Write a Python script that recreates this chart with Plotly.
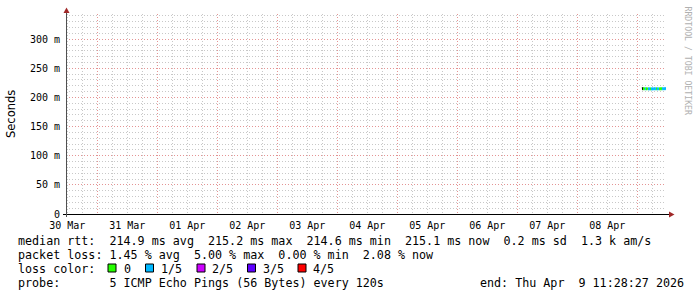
import plotly.graph_objects as go
import pandas as pd

# ---------------- data ----------------
start_time = "2026-03-30 11:28:27"
end_time = "2026-04-09 11:28:27"

day_labels = ["30 Mar", "31 Mar", "01 Apr", "02 Apr", "03 Apr",
              "04 Apr", "05 Apr", "06 Apr", "07 Apr", "08 Apr"]
label_times = ["2026-03-30 12:00", "2026-03-31 12:00", "2026-04-01 12:00",
               "2026-04-02 12:00", "2026-04-03 12:00", "2026-04-04 12:00",
               "2026-04-05 12:00", "2026-04-06 12:00", "2026-04-07 12:00",
               "2026-04-08 12:00"]
midnights = ["2026-03-31", "2026-04-01", "2026-04-02", "2026-04-03", "2026-04-04",
             "2026-04-05", "2026-04-06", "2026-04-07", "2026-04-08", "2026-04-09"]

y_tickvals = [0, 0.05, 0.10, 0.15, 0.20, 0.25, 0.30]
y_ticktext = ["0", "50 m", "100 m", "150 m", "200 m", "250 m", "300 m"]

times = ["2026-04-09 01:52", "2026-04-09 02:16", "2026-04-09 02:40", "2026-04-09 03:04",
         "2026-04-09 03:28", "2026-04-09 03:52", "2026-04-09 04:16", "2026-04-09 04:40",
         "2026-04-09 05:04", "2026-04-09 05:28", "2026-04-09 05:52", "2026-04-09 06:16",
         "2026-04-09 06:40", "2026-04-09 07:04", "2026-04-09 07:28", "2026-04-09 07:52",
         "2026-04-09 08:16", "2026-04-09 08:40", "2026-04-09 09:04", "2026-04-09 09:28",
         "2026-04-09 09:52", "2026-04-09 10:16", "2026-04-09 10:40", "2026-04-09 11:04",
         "2026-04-09 11:28"]
median_s = [0.2150, 0.2152, 0.2151, 0.2148, 0.2150, 0.2151, 0.2147, 0.2148,
            0.2149, 0.2146, 0.2148, 0.2147, 0.2149, 0.2148, 0.2150, 0.2148,
            0.2147, 0.2149, 0.2151, 0.2150, 0.2149, 0.2148, 0.2150, 0.2152,
            0.2151]
# loss (out of 5) for the segment ending at each point; None = unknown
seg_loss = [None, 0, 0, 1, 0, 0, 1, 1, 0, 1, 1, 1, 1, 1, 0, 1, 1, 0, 0, 0, 1, 1, 1, 1]

loss_names = ["0", "1/5", "2/5", "3/5", "4/5"]
loss_colors = ["#26ff00", "#00b8ff", "#cc00ff", "#5e00ff", "#ff0000"]

stats_rtt = "median rtt:  214.9 ms avg  215.2 ms max  214.6 ms min  215.1 ms now  0.2 ms sd  1.3 k am/s"
stats_loss = "packet loss: 1.45 % avg  5.00 % max  0.00 % min  2.08 % now"
probe_text = "probe:       5 ICMP Echo Pings (56 Bytes) every 120s"
end_text = "end: Thu Apr  9 11:28:27 2026"

# grid positions (minor grid skips the major positions)
six_hours = [t.strftime("%Y-%m-%d %H:%M") for t in
             pd.date_range("2026-03-30 12:00", "2026-04-09 06:00", freq="6h")
             if t.hour != 0]
y_minor = [round(0.01 * k, 2) for k in range(1, 35) if k % 5 != 0]

# ---------------- layout helpers ----------------
W, H = 697, 297
PL, PR, PT, PB = 66, 666, 14, 214


def px(x):
    return (x - PL) / (PR - PL)


def py(y):
    return (PB - y) / (PB - PT)


MONO = "DejaVu Sans Mono"
YR = [0, 0.3432]

fig = go.Figure()

# invisible traces to host the grid axes
fig.add_trace(go.Scatter(x=[start_time, end_time], y=[0, 0], xaxis="x2", yaxis="y2",
                         mode="lines", line=dict(width=0), opacity=0,
                         hoverinfo="skip", showlegend=False))
fig.add_trace(go.Scatter(x=[start_time, end_time], y=[0, 0], xaxis="x3", yaxis="y3",
                         mode="lines", line=dict(width=0), opacity=0,
                         hoverinfo="skip", showlegend=False))

# median line segments coloured by loss
groups = {}
for i, l in enumerate(seg_loss):
    groups.setdefault(l, ([], []))
    gx, gy = groups[l]
    gx += [times[i], times[i + 1], None]
    gy += [median_s[i], median_s[i + 1], None]
for l, (gx, gy) in groups.items():
    col = "#000000" if l is None else loss_colors[l]
    fig.add_trace(go.Scatter(x=gx, y=gy, mode="lines",
                             line=dict(color=col, width=3),
                             hoverinfo="skip", showlegend=False))

grid_gray = "#c8c8c8"
grid_red = "#e49494"
dash = "1px,2px"

hidden = dict(showticklabels=False, zeroline=False, showline=False, ticks="",
              fixedrange=True)

fig.update_layout(
    width=W, height=H,
    margin=dict(l=PL, r=W - PR, t=PT, b=H - PB),
    paper_bgcolor="white", plot_bgcolor="white",
    showlegend=False,
    xaxis=dict(type="date", range=[start_time, end_time],
               tickvals=label_times, ticktext=day_labels,
               showgrid=False, zeroline=False, showline=False, ticks="",
               ticklabelstandoff=4,
               tickfont=dict(family=MONO, size=10, color="#000000"),
               fixedrange=True),
    yaxis=dict(range=YR, tickvals=y_tickvals, ticktext=y_ticktext,
               showgrid=False, zeroline=False, showline=False, ticks="",
               ticklabelstandoff=5,
               tickfont=dict(family=MONO, size=10, color="#000000"),
               fixedrange=True),
    xaxis2=dict(type="date", range=[start_time, end_time], overlaying="x", anchor="y2",
                tickvals=six_hours, showgrid=True, gridcolor=grid_gray,
                griddash=dash, gridwidth=1, **hidden),
    yaxis2=dict(range=YR, overlaying="y", anchor="x2", tickvals=y_minor,
                showgrid=True, gridcolor=grid_gray, griddash=dash, gridwidth=1, **hidden),
    xaxis3=dict(type="date", range=[start_time, end_time], overlaying="x", anchor="y3",
                tickvals=midnights, showgrid=True, gridcolor=grid_red,
                griddash=dash, gridwidth=1, **hidden),
    yaxis3=dict(range=YR, overlaying="y", anchor="x3", tickvals=y_tickvals[1:],
                showgrid=True, gridcolor=grid_red, griddash=dash, gridwidth=1, **hidden),
)

shapes = []
# axis lines
shapes.append(dict(type="line", xref="paper", yref="paper",
                   x0=px(63), x1=px(670), y0=py(214.5), y1=py(214.5),
                   line=dict(color="#000000", width=1)))
shapes.append(dict(type="line", xref="paper", yref="paper",
                   x0=px(66.5), x1=px(66.5), y0=py(217), y1=py(12),
                   line=dict(color="#505050", width=1)))
# arrows
arrow_col = "#a02828"
shapes.append(dict(type="path", xref="paper", yref="paper",
                   path=f"M {px(63.5)} {py(13)} L {px(69.5)} {py(13)} L {px(66.5)} {py(7.5)} Z",
                   fillcolor=arrow_col, line=dict(color=arrow_col, width=0)))
shapes.append(dict(type="path", xref="paper", yref="paper",
                   path=f"M {px(669)} {py(211.5)} L {px(669)} {py(217.5)} L {px(674.5)} {py(214.5)} Z",
                   fillcolor=arrow_col, line=dict(color=arrow_col, width=0)))

# legend squares
sq_x = [108, 145.5, 197, 247.5, 298]
lab_x = [123, 160, 211, 262, 312]
for sx, col in zip(sq_x, loss_colors):
    shapes.append(dict(type="rect", xref="paper", yref="paper",
                       x0=px(sx), x1=px(sx + 8), y0=py(272), y1=py(264),
                       fillcolor=col, line=dict(color="#000000", width=1)))
fig.update_layout(shapes=shapes)

ann = []


def text(x, y, s, size=11.7, color="#000", xanchor="left", family=MONO, angle=0, yanchor="middle"):
    ann.append(dict(x=px(x), y=py(y), xref="paper", yref="paper", text=s.replace(" ", "&nbsp;"),
                    showarrow=False, xanchor=xanchor, yanchor=yanchor, textangle=angle,
                    font=dict(family=family, size=size, color=color)))


text(16, 241, stats_rtt)
text(16, 255, stats_loss)
text(16, 269, "loss color:")
for lx, nm in zip(lab_x, loss_names):
    text(lx - 1, 269, nm)
text(16, 283, probe_text)
text(478, 283, end_text)
text(11, 114, "Seconds", size=11.5, family="DejaVu Sans", angle=-90, xanchor="center")
ann.append(dict(x=px(687), y=py(4), xref="paper", yref="paper",
                text="RRDTOOL / TOBI OETIKER".replace(" ", "&nbsp;"), showarrow=False,
                xanchor="center", yanchor="top", textangle=90,
                font=dict(family=MONO, size=8.2, color="#b0b0b0")))
fig.update_layout(annotations=ann)

fig.write_html("out.html")
